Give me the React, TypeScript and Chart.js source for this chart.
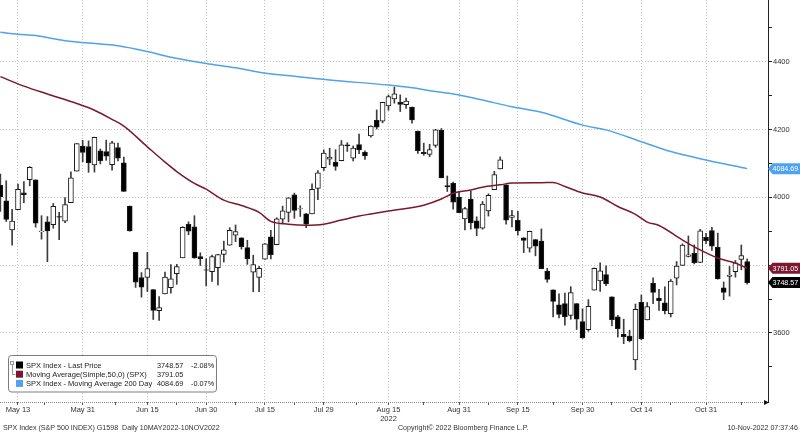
import { useEffect, useRef } from "react";
import { Chart, registerables } from "chart.js";

Chart.register(...registerables);

// ---- Data (SPX daily candles, 10 May 2022 – 9 Nov 2022; x = trading-day index) ----
const dates = [
  "May 10","May 11","May 12","May 13","May 16","May 17","May 18","May 19","May 20","May 23","May 24","May 25","May 26","May 27","May 31",
  "Jun 1","Jun 2","Jun 3","Jun 6","Jun 7","Jun 8","Jun 9","Jun 10","Jun 13","Jun 14","Jun 15","Jun 16","Jun 17","Jun 21","Jun 22","Jun 23","Jun 24","Jun 27","Jun 28","Jun 29","Jun 30",
  "Jul 1","Jul 5","Jul 6","Jul 7","Jul 8","Jul 11","Jul 12","Jul 13","Jul 14","Jul 15","Jul 18","Jul 19","Jul 20","Jul 21","Jul 22","Jul 25","Jul 26","Jul 27","Jul 28","Jul 29",
  "Aug 1","Aug 2","Aug 3","Aug 4","Aug 5","Aug 8","Aug 9","Aug 10","Aug 11","Aug 12","Aug 15","Aug 16","Aug 17","Aug 18","Aug 19","Aug 22","Aug 23","Aug 24","Aug 25","Aug 26","Aug 29","Aug 30","Aug 31",
  "Sep 1","Sep 2","Sep 6","Sep 7","Sep 8","Sep 9","Sep 12","Sep 13","Sep 14","Sep 15","Sep 16","Sep 19","Sep 20","Sep 21","Sep 22","Sep 23","Sep 26","Sep 27","Sep 28","Sep 29","Sep 30",
  "Oct 3","Oct 4","Oct 5","Oct 6","Oct 7","Oct 10","Oct 11","Oct 12","Oct 13","Oct 14","Oct 17","Oct 18","Oct 19","Oct 20","Oct 21","Oct 24","Oct 25","Oct 26","Oct 27","Oct 28","Oct 31",
  "Nov 1","Nov 2","Nov 3","Nov 4","Nov 7","Nov 8","Nov 9",
];

const opens = [
  4035.18,3990.08,3903.95,3963.90,4013.02,4052.00,4051.98,3899.00,3927.76,3919.42,3942.94,3929.59,3984.60,4077.43,4151.09,
  4149.78,4095.41,4137.57,4134.72,4096.47,4147.12,4101.65,3974.39,3838.15,3763.52,3764.05,3728.18,3665.90,3715.31,3733.89,3774.71,3821.75,3920.76,3913.00,3825.09,3785.99,
  3781.00,3792.61,3831.98,3858.85,3888.26,3880.94,3851.95,3779.67,3763.99,3818.00,3883.79,3860.73,3935.32,3955.47,4007.48,3965.72,3951.43,3951.43,4026.13,4087.33,
  4112.38,4104.21,4107.96,4154.85,4115.87,4155.93,4133.11,4181.02,4227.40,4225.02,4269.37,4290.46,4280.40,4273.13,4266.31,4195.08,4133.09,4126.55,4153.26,4198.74,4034.58,4041.25,4000.67,
  3936.73,3994.66,3930.89,3909.43,3959.94,4022.94,4083.67,4037.12,3940.73,3932.41,3880.95,3849.91,3875.23,3871.40,3782.36,3727.14,3682.72,3686.44,3651.94,3687.01,3633.48,
  3609.78,3726.46,3753.25,3771.97,3706.74,3647.51,3595.86,3590.83,3520.37,3690.41,3638.65,3746.26,3703.11,3689.05,3657.10,3762.01,3799.44,3825.97,3834.69,3808.26,3881.86,
  3901.79,3852.90,3733.25,3766.98,3780.71,3817.02,3810.94,
];
const highs = [
  4068.82,4049.09,3964.80,4038.88,4046.46,4090.72,4051.98,3945.96,3943.42,3981.88,3955.68,3999.33,4075.14,4158.49,4168.34,
  4166.54,4177.51,4142.67,4168.78,4164.86,4160.14,4119.10,3974.39,3838.15,3778.18,3837.56,3728.18,3707.71,3779.65,3801.79,3802.58,3913.65,3927.72,3945.86,3836.50,3818.99,
  3829.82,3832.19,3870.91,3910.63,3918.50,3880.94,3873.41,3829.44,3796.41,3863.62,3902.44,3939.81,3974.13,3999.29,4012.44,3975.30,3953.22,4039.56,4078.95,4140.15,
  4144.95,4140.47,4167.66,4161.29,4151.58,4186.62,4137.30,4211.03,4257.91,4280.47,4301.79,4325.28,4302.18,4292.53,4266.31,4195.08,4159.77,4156.56,4200.54,4203.04,4062.99,4044.98,4015.37,
  3970.23,4018.43,3942.55,3987.89,4010.50,4076.81,4119.28,4037.12,3961.94,3959.14,3880.95,3900.45,3876.01,3907.07,3790.78,3727.14,3715.67,3717.53,3736.74,3687.01,3671.44,
  3698.35,3791.92,3806.91,3797.93,3706.74,3652.17,3640.66,3608.34,3685.41,3712.00,3689.73,3762.79,3728.58,3736.00,3757.89,3810.74,3862.85,3886.15,3859.95,3905.42,3893.73,
  3911.79,3894.44,3750.59,3796.34,3813.95,3859.40,3818.20,
];
const lows = [
  3958.17,3928.82,3858.87,3963.90,3983.99,4033.93,3911.91,3876.58,3810.32,3909.04,3875.13,3925.03,3984.60,4077.43,4104.88,
  4073.85,4074.37,4098.67,4109.18,4080.19,4107.20,4017.17,3900.16,3734.30,3705.68,3722.30,3639.77,3636.87,3715.31,3717.69,3743.52,3821.75,3889.66,3820.14,3799.02,3738.67,
  3752.10,3742.06,3809.37,3858.85,3869.34,3847.22,3802.36,3721.56,3721.56,3817.18,3818.63,3860.73,3922.03,3927.64,3938.24,3943.46,3910.74,3951.43,3992.97,4079.22,
  4096.02,4079.81,4107.96,4135.42,4107.31,4128.97,4112.09,4177.26,4201.41,4219.78,4256.90,4277.77,4253.08,4261.98,4218.70,4129.86,4124.03,4119.97,4147.59,4057.66,4017.42,3965.21,3954.53,
  3903.65,3906.21,3886.75,3906.03,3944.81,4022.94,4083.67,3921.27,3912.78,3888.28,3837.08,3838.50,3827.54,3789.49,3749.45,3647.47,3644.76,3623.29,3640.61,3610.40,3584.13,
  3604.93,3726.46,3722.66,3739.22,3620.73,3588.10,3568.45,3573.86,3491.58,3579.68,3638.65,3686.53,3666.51,3656.44,3647.42,3741.65,3799.44,3824.07,3803.79,3808.26,3863.18,
  3843.80,3758.68,3698.15,3708.84,3764.70,3786.28,3744.22,
];
const closes = [
  4001.05,3935.18,3930.08,4023.89,4008.01,4088.85,3923.68,3900.79,3901.36,3973.75,3941.48,3978.73,4057.84,4158.24,4132.15,
  4101.23,4176.82,4108.54,4121.43,4160.68,4115.77,4017.82,3900.86,3749.63,3735.48,3789.99,3666.77,3674.84,3764.79,3759.89,3795.73,3911.74,3900.11,3821.55,3818.83,3785.38,
  3825.33,3831.39,3845.08,3902.62,3899.38,3854.43,3818.80,3801.78,3790.38,3863.16,3830.85,3936.69,3959.90,3998.95,3961.63,3966.84,3921.05,4023.61,4072.43,4130.29,
  4118.63,4091.19,4155.17,4151.94,4145.19,4140.06,4122.47,4210.24,4207.27,4280.15,4297.14,4305.20,4274.04,4283.74,4228.48,4137.99,4128.73,4140.77,4199.12,4057.66,4030.61,3986.16,3955.00,
  3966.85,3924.26,3908.19,3979.87,4006.18,4067.36,4110.41,3932.69,3946.01,3901.35,3873.33,3899.89,3855.93,3789.93,3757.99,3693.23,3655.04,3647.29,3719.04,3640.47,3585.62,
  3678.43,3790.93,3783.28,3744.52,3639.66,3612.39,3588.84,3577.03,3669.91,3583.07,3677.95,3719.98,3695.16,3665.78,3752.75,3797.34,3859.11,3830.60,3807.30,3901.06,3871.98,
  3856.10,3759.69,3719.89,3770.55,3806.80,3828.11,3748.57,
];

// Moving averages (day index -> value)
const ma50Days = [0,4,8,13,16,19,21,25,28,30,33,35,38,41,44,46,49,52,55,58,61,63,66,72,75,77,80,82,85,87,92,94,96,99,102,105,108,110,112,116,119,122,125,127];
const ma50Values = [4356,4328,4305,4277,4257,4230,4210,4149,4104,4076,4041,4024,3992,3976,3956,3929,3921,3918,3921,3933,3945,3951,3960,3977,3995,4012,4022,4030,4037,4042,4043,4044,4032,4013,4001,3973,3950,3927,3917,3874,3845,3821,3806,3791.05];
const ma200Days = [0,3,6,11,17,20,25,29,35,40,44,50,56,66,70,74,78,82,87,92,99,103,109,114,120,127];
const ma200Values = [4487,4481,4477,4462,4452,4447,4430,4413,4395,4382,4369,4357,4346,4331,4323,4312,4302,4287,4267,4251,4213,4199,4164,4135,4110,4084.69];

// Axis ticks
const xTickDays = [3,14,25,35,45,55,66,78,88,99,109,120];
const xTickLabels = ["May 13","May 31","Jun 15","Jun 30","Jul 15","Jul 29","Aug 15","Aug 31","Sep 15","Sep 30","Oct 14","Oct 31"];
const xYearDay = 66;
const xYearLabel = "2022";
const xMinorDays = [7.5,19.5,30,40,50,60.5,72,83,94,104,114,126];
const yMajorTicks = [3600,3800,4000,4200,4400];
const yMinorTicks = [3500,3700,3900,4100,4300,4500];
const yHiddenLabels = [3800];

// Legend / tags / footer text
const legendNames = ["SPX Index - Last Price","Moving Average(Simple,50,0) (SPX)","SPX Index - Moving Average 200 Day"];
const legendValues = ["3748.57","3791.05","4084.69"];
const legendChanges = ["-2.08%","","-0.07%"];
const tagValues = [4084.69, 3791.05, 3748.57];
const footerLeft = "SPX Index (S&P 500 INDEX) G1598  Daily 10MAY2022-10NOV2022";
const footerMid = "Copyright\u00A9 2022 Bloomberg Finance L.P.";
const footerRight = "10-Nov-2022 07:37:46";

const COL_PRICE = "#000000";
const COL_MA50 = "#7a1830";
const COL_MA200 = "#4ea2ee";
const tagColors = [COL_MA200, COL_MA50, COL_PRICE];
const FONT = "Liberation Sans, Arial, sans-serif";

const overlayPlugin = {
  id: "overlay",
  afterDraw(chart: any) {
    const ctx: CanvasRenderingContext2D = chart.ctx;
    const area = chart.chartArea;
    const ys = chart.scales.y;
    ctx.save();
    // bottom dotted axis line with arrow
    ctx.strokeStyle = "#8a8a8a";
    ctx.lineWidth = 1;
    ctx.setLineDash([1, 1]);
    ctx.beginPath();
    ctx.moveTo(area.left, Math.round(area.bottom) + 0.5);
    ctx.lineTo(area.right - 2, Math.round(area.bottom) + 0.5);
    ctx.stroke();
    ctx.setLineDash([]);
    ctx.fillStyle = "#111";
    ctx.beginPath();
    ctx.moveTo(area.right + 1, area.bottom + 0.5);
    ctx.lineTo(area.right - 4, area.bottom - 2);
    ctx.lineTo(area.right - 4, area.bottom + 3);
    ctx.closePath();
    ctx.fill();

    // value tags on right axis
    ctx.font = `7.1px ${FONT}`;
    ctx.textBaseline = "middle";
    ctx.textAlign = "left";
    tagValues.forEach((v, k) => {
      const y = ys.getPixelForValue(v);
      const x0 = area.right;
      ctx.fillStyle = tagColors[k];
      ctx.beginPath();
      ctx.moveTo(x0, y);
      ctx.lineTo(x0 + 4.5, y - 5.5);
      ctx.lineTo(800, y - 5.5);
      ctx.lineTo(800, y + 5.5);
      ctx.lineTo(x0 + 4.5, y + 5.5);
      ctx.closePath();
      ctx.fill();
      ctx.fillStyle = "#ffffff";
      ctx.fillText(v.toFixed(2), x0 + 4.5, y + 0.5);
    });

    // legend box
    const bx = 8.5, by = 355.5, bw = 208, bh = 36.5;
    ctx.fillStyle = "#ffffff";
    ctx.strokeStyle = "#7c7c7c";
    ctx.lineWidth = 1;
    ctx.beginPath();
    (ctx as any).roundRect(bx, by, bw, bh, 3);
    ctx.fill();
    ctx.stroke();
    // small tree glyph
    ctx.strokeStyle = "#999";
    ctx.strokeRect(10.5, 361.5, 3, 3);
    ctx.beginPath();
    ctx.moveTo(12.5, 365);
    ctx.lineTo(12.5, 374.5);
    ctx.lineTo(15.5, 374.5);
    ctx.stroke();
    const rowY = [365, 374.2, 383.4];
    const sw = [COL_PRICE, COL_MA50, COL_MA200];
    ctx.textBaseline = "middle";
    legendNames.forEach((name, k) => {
      ctx.fillStyle = sw[k];
      ctx.fillRect(16, rowY[k] - 3.5, 7, 7);
      ctx.fillStyle = "#222";
      ctx.textAlign = "left";
      ctx.font = `7.5px ${FONT}`;
      ctx.fillText(name, 26, rowY[k] + 0.5);
      ctx.font = `7.3px ${FONT}`;
      ctx.fillText(legendValues[k], 157, rowY[k] + 0.5);
      if (legendChanges[k]) ctx.fillText(legendChanges[k], 191, rowY[k] + 0.5);
    });

    // footer
    ctx.font = `7.1px ${FONT}`;
    ctx.fillStyle = "#333";
    ctx.textBaseline = "middle";
    ctx.textAlign = "left";
    ctx.fillText(footerLeft, 3, 428);
    ctx.fillText(footerMid, 398, 428);
    ctx.textAlign = "right";
    ctx.fillText(footerRight, 798, 428);
    ctx.restore();
  },
};

export default function App() {
  const ref = useRef<HTMLCanvasElement>(null);
  useEffect(() => {
    const bodies = dates.map((_, i) => ({
      x: i,
      y: [Math.min(opens[i], closes[i]), Math.max(opens[i], closes[i])],
    }));
    const wicks = dates.map((_, i) => ({ x: i, y: [lows[i], highs[i]] }));
    const ma50 = ma50Days.map((d, k) => ({ x: d, y: ma50Values[k] }));
    const ma200 = ma200Days.map((d, k) => ({ x: d, y: ma200Values[k] }));
    const allXTicks = [...xTickDays, ...xMinorDays].sort((a, b) => a - b);
    const allYTicks = [...yMajorTicks, ...yMinorTicks].sort((a, b) => a - b);

    const chart = new Chart(ref.current!, {
      type: "bar",
      data: {
        datasets: [
          {
            type: "line",
            label: "MA200",
            data: ma200,
            borderColor: COL_MA200,
            borderWidth: 1.5,
            pointRadius: 0,
            cubicInterpolationMode: "monotone",
            order: 0,
          } as any,
          {
            type: "line",
            label: "MA50",
            data: ma50,
            borderColor: COL_MA50,
            borderWidth: 1.5,
            pointRadius: 0,
            cubicInterpolationMode: "monotone",
            order: 1,
          } as any,
          {
            type: "bar",
            label: "body",
            data: bodies,
            grouped: false,
            barThickness: 5,
            backgroundColor: (c: any) =>
              closes[c.dataIndex] >= opens[c.dataIndex] ? "#ffffff" : "#000000",
            borderColor: "#1a1a1a",
            borderWidth: 1,
            borderSkipped: false,
            order: 2,
          } as any,
          {
            type: "bar",
            label: "wick",
            data: wicks,
            grouped: false,
            barThickness: 1,
            backgroundColor: "#3c3c3c",
            borderWidth: 0,
            order: 3,
          } as any,
        ],
      },
      options: {
        responsive: false,
        animation: false,
        devicePixelRatio: 1,
        layout: { padding: 0 },
        plugins: { legend: { display: false }, tooltip: { enabled: false } },
        events: [],
        scales: {
          x: {
            type: "linear",
            position: "bottom",
            min: -0.06,
            max: 130.54,
            offset: false,
            afterBuildTicks: (s: any) => {
              s.ticks = allXTicks.map((v) => ({ value: v }));
            },
            afterFit: (s: any) => {
              s.height = 31;
              s.paddingLeft = 0;
              s.paddingRight = 0;
            },
            ticks: {
              autoSkip: false,
              maxRotation: 0,
              minRotation: 0,
              padding: 0,
              color: "#333",
              font: { family: FONT, size: 7.5 },
              callback: (v: any) => {
                const k = xTickDays.indexOf(v);
                if (k < 0) return "";
                return v === xYearDay ? [xTickLabels[k], xYearLabel] : xTickLabels[k];
              },
            },
            grid: {
              offset: false,
              color: (c: any) =>
                c.tick && xTickDays.includes(c.tick.value) ? "#c2c2c2" : "rgba(0,0,0,0)",
              tickColor: "#555",
              tickLength: 3,
            },
            border: { display: false, dash: [1, 2] },
          } as any,
          y: {
            type: "linear",
            position: "right",
            min: 3396.5,
            max: 4582,
            beginAtZero: false,
            afterBuildTicks: (s: any) => {
              s.ticks = allYTicks.map((v) => ({ value: v }));
            },
            afterFit: (s: any) => {
              s.width = 32;
              s.paddingTop = 0;
              s.paddingBottom = 0;
            },
            ticks: {
              padding: 1,
              color: "#333",
              font: { family: FONT, size: 7.5 },
              callback: (v: any) =>
                yMajorTicks.includes(v) && !yHiddenLabels.includes(v) ? String(v) : "",
            },
            grid: {
              color: (c: any) =>
                c.tick && yMajorTicks.includes(c.tick.value) ? "#c2c2c2" : "rgba(0,0,0,0)",
              tickColor: "#222",
              tickLength: 4,
            },
            border: { display: true, color: "#222", width: 1, dash: [1, 2] },
          } as any,
        },
      },
      plugins: [overlayPlugin],
    });
    return () => chart.destroy();
  }, []);

  return (
    <div
      style={{
        position: "fixed",
        left: 0,
        top: 0,
        width: 800,
        height: 433,
        background: "#ffffff",
      }}
    >
      <canvas ref={ref} width={800} height={433} style={{ display: "block", width: 800, height: 433 }} />
    </div>
  );
}
